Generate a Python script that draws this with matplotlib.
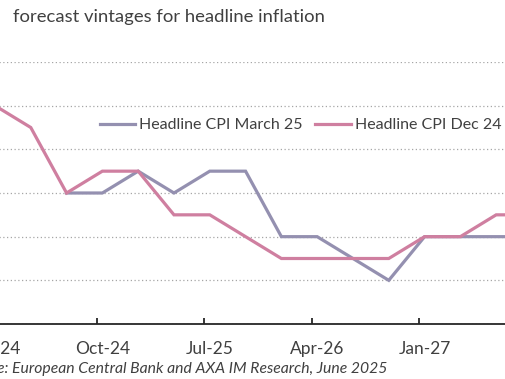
import numpy as np
import matplotlib
matplotlib.use("Agg")
import matplotlib.pyplot as plt

# Quarterly index: 0 = Q1 2024 ... 15 = Q4 2027
quarters = list(range(16))
dec24 = [2.6, 2.5, 2.2, 2.3, 2.3, 2.1, 2.1, 2.0, 1.9, 1.9, 1.9, 1.9, 2.0, 2.0, 2.1, 2.1]
mar25_q = list(range(2, 16))
mar25 = [2.2, 2.2, 2.3, 2.2, 2.3, 2.3, 2.0, 2.0, 1.9, 1.8, 2.0, 2.0, 2.0, 2.0]
tick_pos = [0, 3, 6, 9, 12]
tick_labels = ["Jan-24", "Oct-24", "Jul-25", "Apr-26", "Jan-27"]
yticks = [1.6, 1.8, 2.0, 2.2, 2.4, 2.6, 2.8]

FONT = "Lato"
TXT = "#404040"
W, H = 505, 379
fig = plt.figure(figsize=(W / 100, H / 100), dpi=100)

# axes geometry in pixels (original chart is cropped)
px_left, px_right = -60, 560
px_top, px_bot = 62, 324
ax = fig.add_axes([px_left / W, (H - px_bot) / H, (px_right - px_left) / W, (px_bot - px_top) / H])

q_per_px = 1 / 35.8
tick0_px = 97 - 3 * 35.8  # pixel of q=0 tick
ax.set_xlim((px_left - tick0_px) * q_per_px, (px_right - tick0_px) * q_per_px)
ax.set_ylim(1.6, 2.8)

off = 0.15
ax.plot(np.array(mar25_q) + off, mar25, color="#9490B0", lw=2.3, label="Headline CPI March 25", solid_joinstyle="miter")
ax.plot(np.array(quarters) + off, dec24, color="#CF7FA0", lw=2.3, label="Headline CPI Dec 24", solid_joinstyle="miter")

ax.set_yticks(yticks)
ax.yaxis.grid(True, linestyle=(0, (1, 2)), color="#A6A6A6", lw=0.9)
ax.set_axisbelow(True)
ax.tick_params(axis="y", left=False, labelleft=False)
# tick marks at quarter boundaries, labels centred on the data points
ax.set_xticks(tick_pos)
ax.set_xticklabels([])
ax.tick_params(axis="x", which="major", direction="in", length=4, width=1.3, color="#262626")
ax.set_xticks(np.array(tick_pos) + off, minor=True)
ax.set_xticklabels(tick_labels, minor=True, fontfamily=FONT, fontsize=12.5, color=TXT)
ax.tick_params(axis="x", which="minor", length=0, pad=12.5)
for s in ["left", "right", "top"]:
    ax.spines[s].set_visible(False)
ax.spines["bottom"].set_color("#262626")
ax.spines["bottom"].set_linewidth(1.3)

leg = ax.legend(ncol=2, frameon=False, loc="center left",
                bbox_to_anchor=(100 / W, 1 - 125 / H), bbox_transform=fig.transFigure,
                prop={"family": FONT, "size": 11.5}, handlelength=2.2, handletextpad=0.25,
                columnspacing=0.8, borderaxespad=0, borderpad=0)
for t in leg.get_texts():
    t.set_color(TXT)

fig.text(325 / W, 1 - 17 / H, "forecast vintages for headline inflation", ha="right", va="center",
         fontfamily=FONT, fontsize=13.3, color=TXT)
fig.text(387 / W, 1 - 369 / H, "Source: European Central Bank and AXA IM Research, June 2025",
         ha="right", va="center", fontfamily=FONT, fontsize=11.3, style="italic", color=TXT)

fig.savefig("out.png", dpi=100)
